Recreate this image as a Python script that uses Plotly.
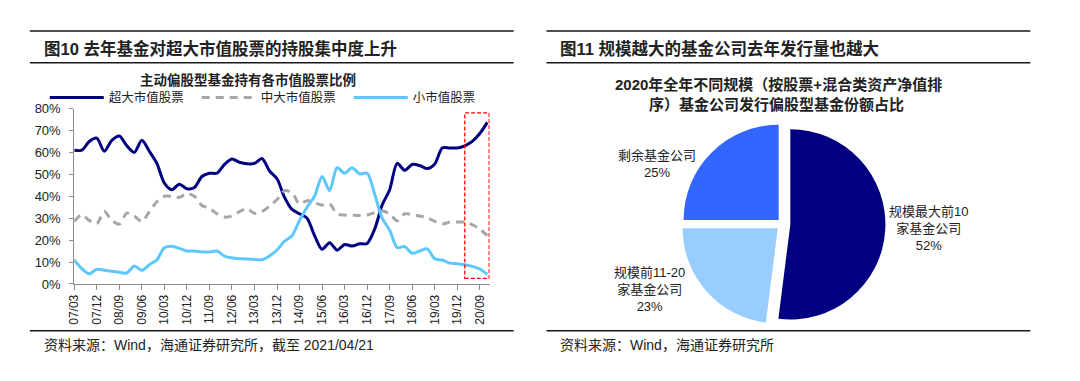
import plotly.graph_objects as go

# ---------------- data ----------------
quarters = ["07/03", "07/06", "07/09", "07/12", "08/03", "08/06", "08/09", "08/12",
            "09/03", "09/06", "09/09", "09/12", "10/03", "10/06", "10/09", "10/12",
            "11/03", "11/06", "11/09", "11/12", "12/03", "12/06", "12/09", "12/12",
            "13/03", "13/06", "13/09", "13/12", "14/03", "14/06", "14/09", "14/12",
            "15/03", "15/06", "15/09", "15/12", "16/03", "16/06", "16/09", "16/12",
            "17/03", "17/06", "17/09", "17/12", "18/03", "18/06", "18/09", "18/12",
            "19/03", "19/06", "19/09", "19/12", "20/03", "20/06", "20/09", "20/12"]
tick_labels = ["07/03", "07/12", "08/09", "09/06", "10/03", "10/12", "11/09", "12/06",
               "13/03", "13/12", "14/09", "15/06", "16/03", "16/12", "17/09", "18/06",
               "19/03", "19/12", "20/09"]
super_large = [61, 61, 65, 66.5, 60.5, 65.5, 67.5, 63, 60, 65.5, 60.5, 55, 46, 43, 45.5, 43.4,
               44, 49, 50.5, 50.5, 54.5, 57, 55.5, 54.8, 55, 57.2, 51.5, 48, 39.5, 34, 32, 30,
               22, 15.8, 18.8, 15.4, 18, 17.3, 18.3, 18.5, 25, 36, 43, 55, 51.8, 54.5, 54, 52.6,
               54.7, 62, 62, 62, 63, 65, 68.6, 73.7]
mid_large = [28.5, 31.5, 29, 27.5, 33, 29, 27.3, 32.3, 31, 28.5, 33, 37.5, 40, 40, 39.5, 41.3,
             40, 35.8, 34.5, 32, 30.5, 31, 33, 34.3, 32.2, 33, 35.5, 38.5, 42.5, 41.5, 36.5, 38,
             37, 36, 36.5, 32, 31.4, 31.4, 31.2, 31.4, 32.5, 33.3, 32, 28.8, 32, 31.6, 31, 30.2,
             28.5, 27.3, 28.2, 28.2, 28.2, 27, 25, 22]
small_cap = [11, 7, 4.6, 6.7, 6.3, 5.8, 5.3, 5, 8.2, 6.2, 8.8, 11, 16.5, 17.2, 16.2, 15,
             15, 14.6, 14.6, 15, 12.7, 11.8, 11.5, 11.4, 11.2, 11, 12.8, 15.5, 19.5, 22, 29, 35,
             40, 49, 42.6, 53, 50.5, 53, 50.2, 50.5, 41, 30, 24.5, 16.6, 17, 14, 15, 16,
             11.5, 10.9, 9.5, 9.2, 8.8, 8, 6.8, 4.4]
series_names = ["超大市值股票", "中大市值股票", "小市值股票"]
y_ticks = [0, 10, 20, 30, 40, 50, 60, 70, 80]
y_tick_text = ["0%", "10%", "20%", "30%", "40%", "50%", "60%", "70%", "80%"]
highlight_start = "20/03"

pie_labels = ["规模最大前10<br>家基金公司", "规模前11-20<br>家基金公司", "剩余基金公司"]
pie_values = [52, 23, 25]

# ---------------- styles ----------------
W, H = 1080, 381
FONT = "Liberation Sans, Noto Sans CJK SC, sans-serif"
CJK = "Noto Sans CJK SC, sans-serif"
TXT = "#222222"
AX = "#8c8c8c"


def px(x):
    return x / W


def py(y):
    return 1 - y / H


fig = go.Figure()

line_styles = [dict(color="#000080", width=3),
               dict(color="#a6a6a6", width=3, dash="8px,6px"),
               dict(color="#5cc8fb", width=3)]
for name, vals, st in zip(series_names, [super_large, mid_large, small_cap], line_styles):
    fig.add_trace(go.Scatter(x=quarters, y=vals, name=name, mode="lines",
                             line=dict(shape="spline", smoothing=0.8, **st),
                             hoverinfo="skip"))

fig.add_trace(go.Pie(labels=pie_labels, values=pie_values, sort=False,
                     direction="clockwise", rotation=0,
                     marker=dict(colors=["#000080", "#99ccff", "#3366ff"]),
                     pull=[0.08, 0.07, 0.06], textinfo="none", showlegend=False,
                     hoverinfo="skip",
                     domain=dict(x=[0.62398, 0.82194], y=[0.12677, 0.68793])))

hi = quarters.index(highlight_start)
n = len(quarters)

fig.update_layout(
    width=W, height=H, margin=dict(l=0, r=0, t=0, b=0),
    paper_bgcolor="white", plot_bgcolor="white",
    font=dict(family=FONT, color=TXT, size=12),
    xaxis=dict(domain=[px(67.7), px(485.7)], type="category",
               range=[0, n - 1 + 0.3],
               tickmode="array", tickvals=tick_labels, ticktext=tick_labels,
               tickangle=-90, tickfont=dict(size=12, family=FONT, color=TXT),
               showline=True, linecolor=AX, linewidth=1,
               ticks="outside", ticklen=5, tickcolor=AX, showgrid=False, zeroline=False),
    yaxis=dict(domain=[py(288.3), py(105.7)], range=[0, 80],
               tickmode="array", tickvals=y_ticks, ticktext=y_tick_text,
               tickfont=dict(size=13, family=FONT, color=TXT), ticklabelstandoff=6,
               showline=True, linecolor=AX, linewidth=1,
               ticks="outside", ticklen=4, tickcolor=AX, showgrid=False, zeroline=False),
    legend=dict(orientation="h", x=px(38), y=py(94.5), xanchor="left", yanchor="middle",
                font=dict(size=12.5, family=CJK, color=TXT), itemwidth=54,
                entrywidth=83, entrywidthmode="pixels", tracegroupgap=0,
                bgcolor="rgba(0,0,0,0)"),
    showlegend=True,
)

shapes = []
for (x0, x1) in [(23, 510), (543, 1030)]:
    for yy in (25, 58, 337):
        shapes.append(dict(type="line", xref="paper", yref="paper",
                           x0=px(x0), x1=px(x1), y0=py(yy), y1=py(yy),
                           line=dict(color="#1a1a1a", width=1.5)))
shapes.append(dict(type="rect", xref="x", yref="y", x0=hi, x1=n - 1 + 0.25, y0=2.5, y1=78,
                   line=dict(color="#ff0000", width=1.3, dash="4px,2px"),
                   fillcolor="rgba(0,0,0,0)"))
fig.update_layout(shapes=shapes)

ann = []


def add_text(text, x, y, size, xanchor="left", bold=False, family=FONT, align="left"):
    ann.append(dict(text=("<b>%s</b>" % text) if bold else text, x=px(x), y=py(y),
                    xref="paper", yref="paper", xanchor=xanchor, yanchor="middle",
                    showarrow=False, align=align,
                    font=dict(size=size, family=family, color=TXT)))


add_text("图10 去年基金对超大市值股票的持股集中度上升", 35, 43, 16.5, bold=True)
add_text("图11 规模越大的基金公司去年发行量也越大", 555, 43, 16.5, bold=True)
add_text("主动偏股型基金持有各市值股票比例", 243, 76, 13.5, xanchor="center", bold=True)
add_text("2020年全年不同规模（按股票+混合类资产净值排", 777, 81, 15, xanchor="center", bold=True)
add_text("序）基金公司发行偏股型基金份额占比", 775, 101, 15, xanchor="center", bold=True)
add_text("资料来源：Wind，海通证券研究所，截至 2021/04/21", 35, 352, 14)
add_text("资料来源：Wind，海通证券研究所", 555, 352, 14)

label_pos = [(928, 231), (647, 294), (654, 163)]
for lab, v, (lx, ly) in zip(pie_labels, pie_values, label_pos):
    ann.append(dict(text="%s<br>%d%%" % (lab, v), x=px(lx), y=py(ly), xref="paper", yref="paper",
                    xanchor="center", yanchor="middle", showarrow=False, align="center",
                    font=dict(size=13, family=FONT, color=TXT)))

fig.update_layout(annotations=ann)

fig.write_html("out.html", config={"displayModeBar": False},
               post_script="document.body.style.margin='0';document.body.style.padding='0';"
                           "document.documentElement.style.overflow='hidden';")
